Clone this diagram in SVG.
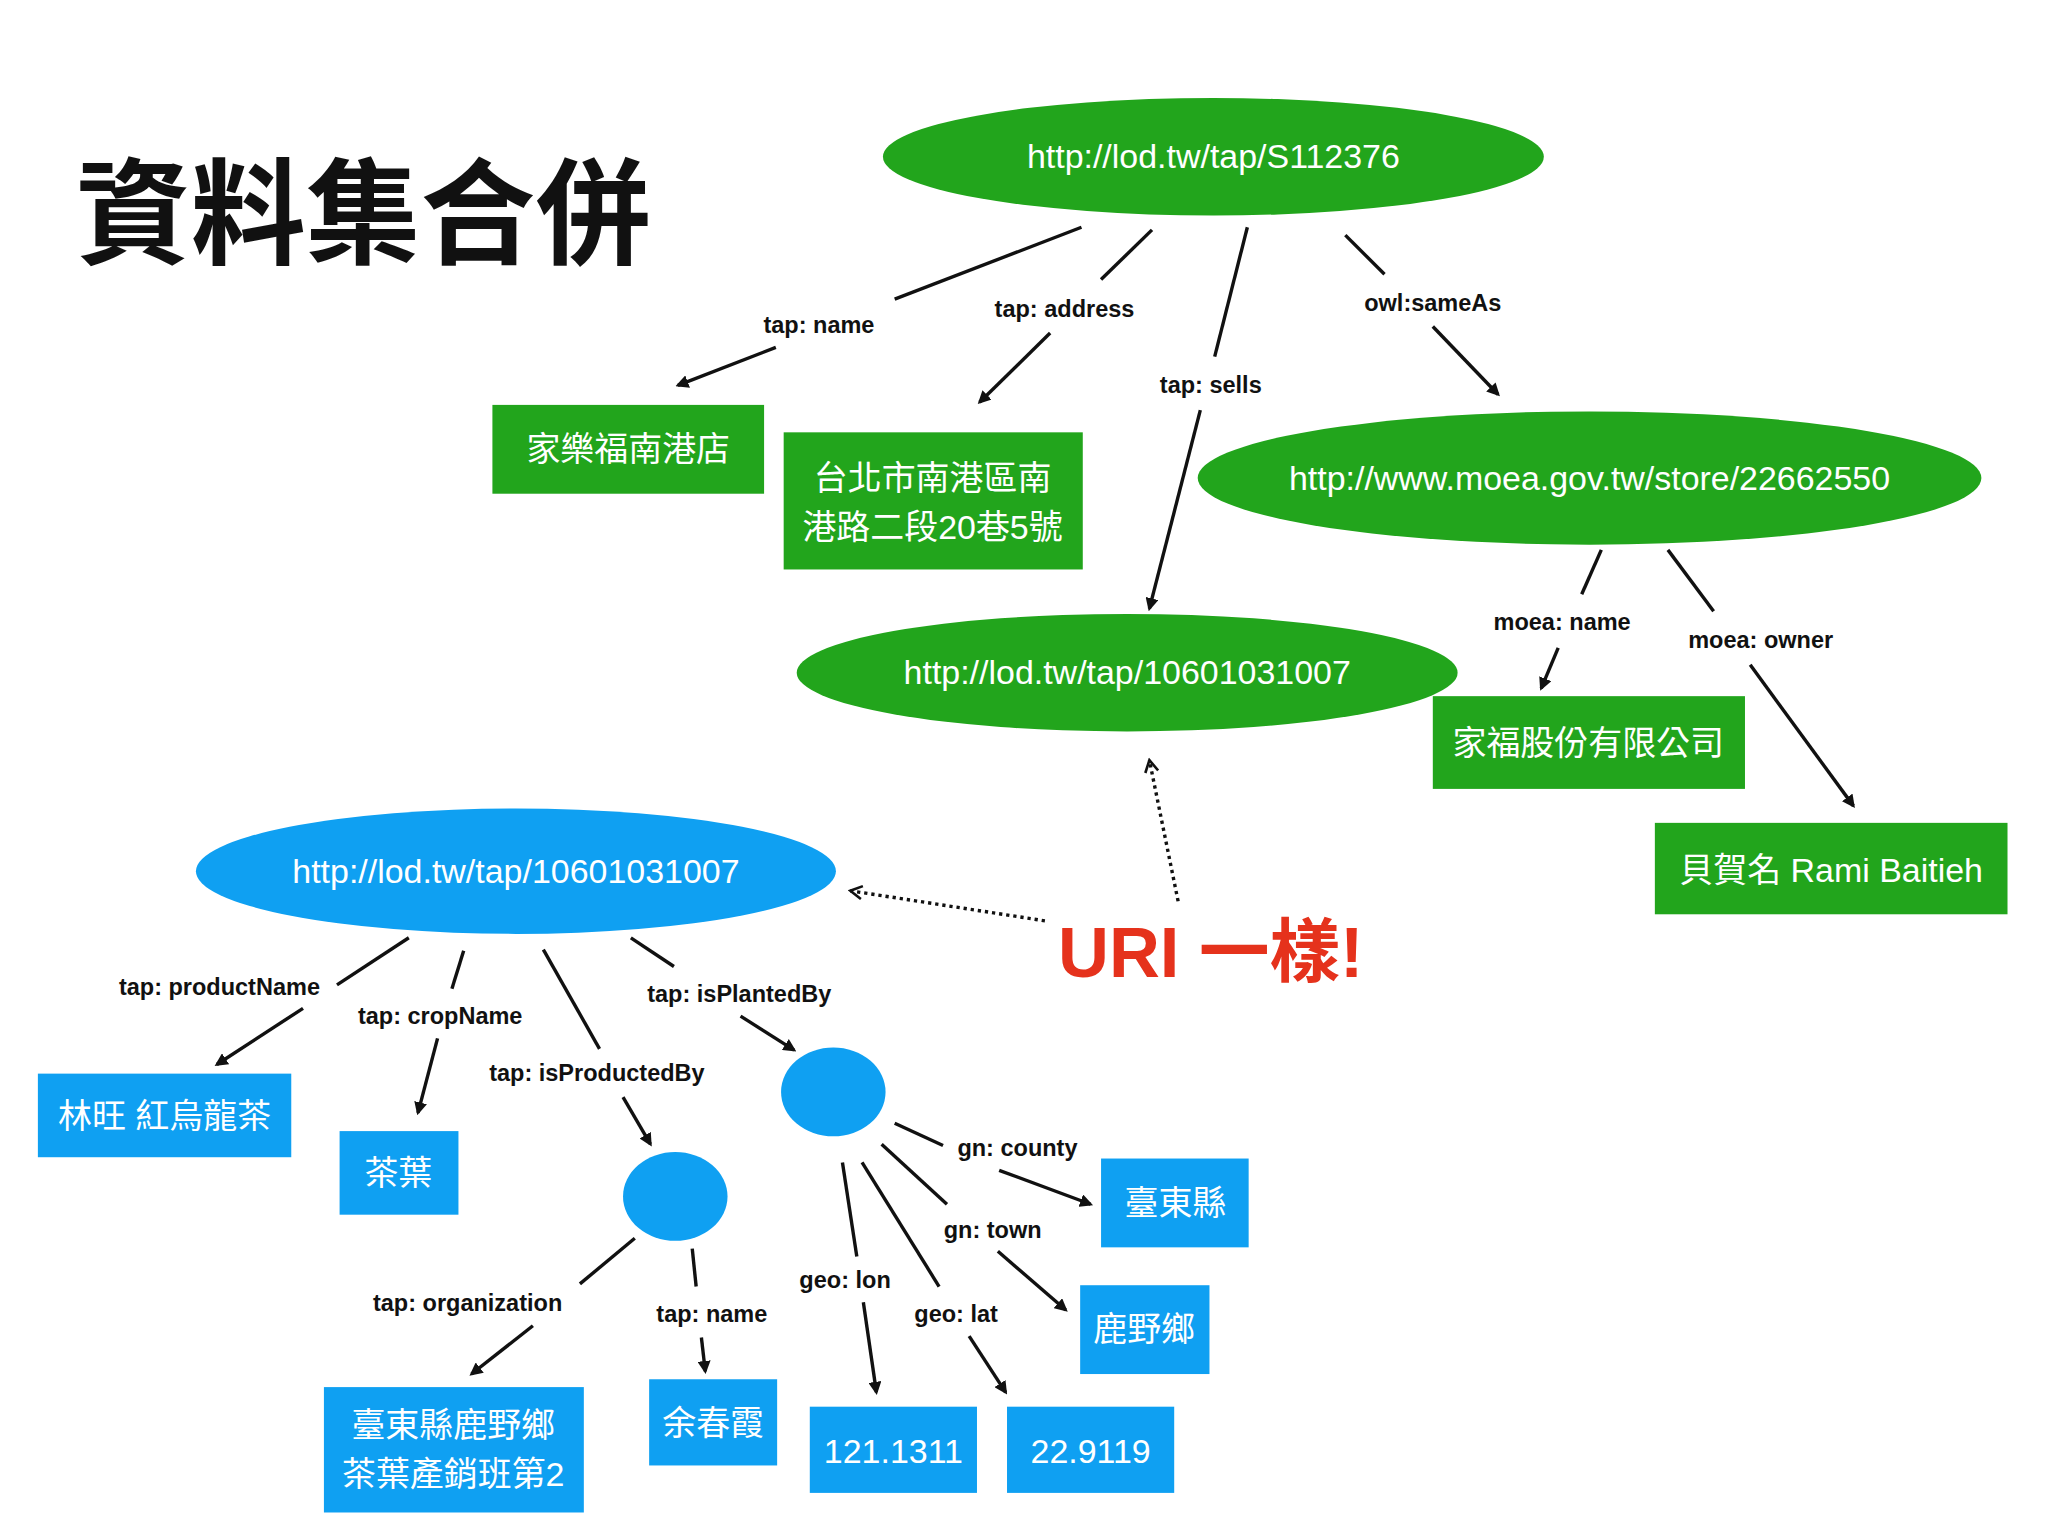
<svg xmlns="http://www.w3.org/2000/svg" width="2048" height="1536" viewBox="0 0 2048 1536">
<defs>
<style>
.g{fill:#22a51c}.b{fill:#0fa0f2}
.nt{font-family:"Liberation Sans","Noto Sans CJK TC",sans-serif;font-size:26px;fill:#fff;text-anchor:middle}
.lb{font-family:"Liberation Sans","Noto Sans CJK TC",sans-serif;font-size:18px;font-weight:bold;fill:#111;text-anchor:middle}
.e{stroke:#111;stroke-width:2.6;fill:none}
.a{marker-end:url(#ar)}
.d{stroke-dasharray:2.5 3}
</style>
<marker id="ar" markerWidth="10" markerHeight="10" refX="8" refY="5" orient="auto" markerUnits="userSpaceOnUse"><path d="M0,0 L10,5 L0,10 z" fill="#111"/></marker>
<marker id="ao" markerWidth="12" markerHeight="12" refX="10" refY="6" orient="auto" markerUnits="userSpaceOnUse"><path d="M1,1 L10,6 L1,11" fill="none" stroke="#111" stroke-width="2"/></marker>
</defs>
<rect width="2048" height="1536" fill="#fff"/>
<g transform="scale(1.30612)">
<text x="58" y="195" font-family="'Noto Sans CJK TC',sans-serif" font-weight="bold" font-size="88" fill="#111">資料集合併</text>
<g id="edges">
<path class="e" d="M828,174 L685,229"/><path class="e a" d="M594,266 L519,295"/><text class="lb" x="627" y="255">tap: name</text>
<path class="e" d="M882,176 L843,214"/><path class="e a" d="M804,255 L750,308"/><text class="lb" x="815" y="243">tap: address</text>
<path class="e" d="M955,174 L930,273"/><path class="e a" d="M919,314 L880,466"/><text class="lb" x="927" y="301">tap: sells</text>
<path class="e" d="M1030,180 L1060,210"/><path class="e a" d="M1097,250 L1147,302"/><text class="lb" x="1097" y="238">owl:sameAs</text>
<path class="e" d="M1226,421 L1211,455"/><path class="e a" d="M1193,496 L1180,527"/><text class="lb" x="1196" y="482">moea: name</text>
<path class="e" d="M1277,421 L1312,468"/><path class="e a" d="M1340,509 L1419,617"/><text class="lb" x="1348" y="496">moea: owner</text>
<path class="e d" d="M902,690 L880,582" marker-end="url(#ao)"/>
<path class="e d" d="M800,705 L651,682" marker-end="url(#ao)"/>
<path class="e" d="M313,718 L258,754"/><path class="e a" d="M232,772 L166,815"/><text class="lb" x="168" y="762">tap: productName</text>
<path class="e" d="M355,728 L346,757"/><path class="e a" d="M335,795 L320,852"/><text class="lb" x="337" y="784">tap: cropName</text>
<path class="e" d="M416,727 L459,803"/><path class="e a" d="M477,840 L498,876"/><text class="lb" x="457" y="828">tap: isProductedBy</text>
<path class="e" d="M483,718 L516,740"/><path class="e a" d="M567,778 L608,804"/><text class="lb" x="566" y="767">tap: isPlantedBy</text>
<path class="e" d="M486,948 L444,983"/><path class="e a" d="M408,1015 L361,1052"/><text class="lb" x="358" y="1004">tap: organization</text>
<path class="e" d="M530,956 L533,985"/><path class="e a" d="M537,1024 L540,1050"/><text class="lb" x="545" y="1012">tap: name</text>
<path class="e" d="M645,890 L656,962"/><path class="e a" d="M661,997 L671,1066"/><text class="lb" x="647" y="986">geo: lon</text>
<path class="e" d="M660,890 L719,985"/><path class="e a" d="M742,1023 L770,1066"/><text class="lb" x="732" y="1012">geo: lat</text>
<path class="e" d="M675,876 L725,922"/><path class="e a" d="M764,958 L816,1003"/><text class="lb" x="760" y="948">gn: town</text>
<path class="e" d="M685,860 L722,877"/><path class="e a" d="M765,896 L835,922"/><text class="lb" x="779" y="885">gn: county</text>
</g>
<text x="810" y="748" font-family="'Liberation Sans','Noto Sans CJK TC',sans-serif" font-weight="bold" font-size="54" fill="#e5321c">URI 一樣!</text>
<g id="n1"><ellipse class="g" cx="929" cy="120" rx="253" ry="45"/><text class="nt" x="929" y="129">http://lod.tw/tap/S112376</text></g>
<g id="n2"><ellipse class="g" cx="1217" cy="366" rx="300" ry="51"/><text class="nt" x="1217" y="375">http://www.moea.gov.tw/store/22662550</text></g>
<g id="n3"><ellipse class="g" cx="863" cy="515" rx="253" ry="45"/><text class="nt" x="863" y="524">http://lod.tw/tap/10601031007</text></g>
<g id="n4"><rect class="g" x="377" y="310" width="208" height="68"/><text class="nt" x="481" y="353">家樂福南港店</text></g>
<g id="n5"><rect class="g" x="600" y="331" width="229" height="105"/><text class="nt" x="714" y="375">台北市南港區南</text><text class="nt" x="714" y="413">港路二段20巷5號</text></g>
<g id="n6"><rect class="g" x="1097" y="533" width="239" height="71"/><text class="nt" x="1216" y="578">家福股份有限公司</text></g>
<g id="n7"><rect class="g" x="1267" y="630" width="270" height="70"/><text class="nt" x="1402" y="675">貝賀名 Rami Baitieh</text></g>
<g id="n8"><ellipse class="b" cx="395" cy="667" rx="245" ry="48"/><text class="nt" x="395" y="676">http://lod.tw/tap/10601031007</text></g>
<g id="n9"><ellipse class="b" cx="638" cy="836" rx="40" ry="34"/></g>
<g id="n10"><ellipse class="b" cx="517" cy="916" rx="40" ry="34"/></g>
<g id="n11"><rect class="b" x="29" y="822" width="194" height="64"/><text class="nt" x="126" y="864">林旺 紅烏龍茶</text></g>
<g id="n12"><rect class="b" x="260" y="866" width="91" height="64"/><text class="nt" x="305" y="907">茶葉</text></g>
<g id="n13"><rect class="b" x="843" y="887" width="113" height="68"/><text class="nt" x="900" y="930">臺東縣</text></g>
<g id="n14"><rect class="b" x="827" y="984" width="99" height="68"/><text class="nt" x="876" y="1027">鹿野鄉</text></g>
<g id="n15"><rect class="b" x="248" y="1062" width="199" height="96"/><text class="nt" x="347" y="1100">臺東縣鹿野鄉</text><text class="nt" x="347" y="1138">茶葉產銷班第2</text></g>
<g id="n16"><rect class="b" x="497" y="1056" width="98" height="66"/><text class="nt" x="546" y="1099">余春霞</text></g>
<g id="n17"><rect class="b" x="620" y="1077" width="128" height="66"/><text class="nt" x="684" y="1120">121.1311</text></g>
<g id="n18"><rect class="b" x="771" y="1077" width="128" height="66"/><text class="nt" x="835" y="1120">22.9119</text></g>
</g>
</svg>
